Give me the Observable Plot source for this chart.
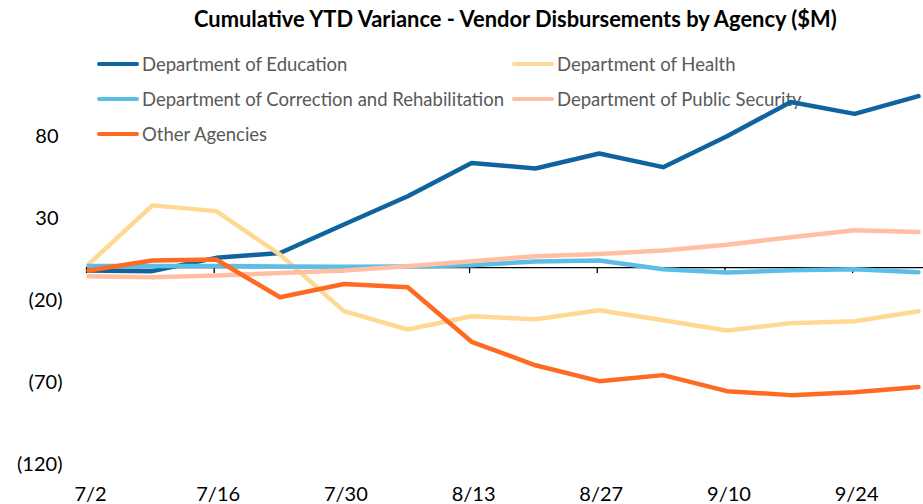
<!DOCTYPE html>
<html>
<head>
<meta charset="utf-8">
<script src="https://cdn.jsdelivr.net/npm/d3@7"></script>
<script src="https://cdn.jsdelivr.net/npm/@observablehq/plot@0.6"></script>
<style>
  body { margin: 0; background: #fff; font-family: Lato, "Open Sans", sans-serif; }
  #wrap { position: relative; width: 923px; height: 504px; overflow: hidden; }
  #title { position: absolute; left: 194px; top: 5px; font-size: 21.9px; font-weight: bold; color: #000; white-space: nowrap; line-height: 28px; }
  #legend { position: absolute; left: 0; top: 0; z-index: 0; }
  .item { position: absolute; display: flex; align-items: center; white-space: nowrap; font-size: 18.5px; color: #595959; height: 24px; }
  .swatch { display: inline-block; width: 42px; height: 4.5px; border-radius: 2px; margin-right: 3px; }
  #chart { position: absolute; left: 0; top: 40px; z-index: 1; }
</style>
</head>
<body>
<div id="wrap">
  <div id="title">Cumulative YTD Variance - Vendor Disbursements by Agency ($M)</div>
  <div id="legend"></div>
  <div id="chart"></div>
</div>
<script>
// ---- data ----
const weeks = ["7/2","7/9","7/16","7/23","7/30","8/6","8/13","8/20","8/27","9/3","9/10","9/17","9/24","10/1"];
const tickLabels = ["7/2","7/16","7/30","8/13","8/27","9/10","9/24"];
const seriesNames = [
  "Department of Education",
  "Department of Health",
  "Department of Correction and Rehabilitation",
  "Department of Public Security",
  "Other Agencies"
];
const seriesColors = ["#0f649f", "#ffd994", "#5bbee6", "#ffbfa3", "#ff6a22"];
const education   = [-1.7, -2.1, 6.0, 9.0, 26.3, 43.6, 63.9, 60.5, 69.6, 61.3, 80.2, 101.0, 93.8, 104.6];
const health      = [2.0, 38.0, 34.5, 8.0, -26.5, -37.7, -29.6, -31.4, -26.0, -32.0, -38.3, -33.8, -32.6, -26.5];
const correction  = [1.0, 1.0, 1.0, 0.8, 0.6, 0.8, 1.5, 3.8, 4.4, -1.0, -3.0, -1.5, -1.0, -2.7];
const publicSec   = [-5.2, -5.8, -4.8, -3.3, -1.7, 0.9, 4.0, 7.0, 8.4, 10.5, 14.0, 18.6, 22.9, 21.8];
const other       = [-1.7, 4.4, 5.0, -18.0, -9.9, -11.9, -45.2, -59.5, -69.2, -65.5, -75.3, -77.7, -75.9, -72.7];
const posTicks = [80, 30];
const negTicks = [-20, -70, -120];

// ---- build ----
const parse = s => d3.utcParse("%m/%d/%Y")(s + "/2020");
const dates = weeks.map(parse);
const tickDates = tickLabels.map(parse);
const allValues = [education, health, correction, publicSec, other];
const rows = [];
seriesNames.forEach((name, si) => {
  allValues[si].forEach((v, i) => rows.push({series: name, date: dates[i], value: v}));
});

const chart = Plot.plot({
  width: 923,
  height: 464,
  marginLeft: 86,
  marginRight: 0,
  marginTop: 14,
  marginBottom: 40,
  style: { fontFamily: "Lato, 'Open Sans', sans-serif", fontSize: "20px", color: "#000", background: "transparent" },
  x: { type: "utc", domain: [dates[0], dates[dates.length - 1]], insetLeft: 2, insetRight: 5 },
  y: { domain: [-120, 130] },
  color: { domain: seriesNames, range: seriesColors },
  marks: [
    Plot.ruleY([0], { stroke: "#000", strokeWidth: 1.3 }),
    Plot.ruleX(tickDates, { x: d => d, y1: 0, y2: -3.6, stroke: "#000", strokeWidth: 1.3, dx: -2 }),
    Plot.axisX(tickDates, { tickSize: 0, tickPadding: 22, tickFormat: d3.utcFormat("%-m/%-d"), dx: 2, fill: "#000", label: null }),
    Plot.axisY(posTicks, { tickSize: 0, tickPadding: 28, tickFormat: d => String(d), fill: "#000", label: null }),
    Plot.axisY(negTicks, { tickSize: 0, tickPadding: 24, tickFormat: d => `(${-d})`, fill: "#000", label: null }),
    Plot.lineY(rows, { x: "date", y: "value", z: "series", stroke: "series", strokeWidth: 4.5, strokeLinejoin: "round", strokeLinecap: "round" })
  ]
});
document.getElementById("chart").appendChild(chart);

// ---- legend ----
const legendPos = [
  {left: 97, top: 52}, {left: 512, top: 52},
  {left: 97, top: 87}, {left: 512, top: 87},
  {left: 97, top: 122}
];
const legend = document.getElementById("legend");
seriesNames.forEach((name, i) => {
  const it = document.createElement("div");
  it.className = "item";
  it.style.left = legendPos[i].left + "px";
  it.style.top = legendPos[i].top + "px";
  const sw = document.createElement("span");
  sw.className = "swatch";
  sw.style.background = seriesColors[i];
  const tx = document.createElement("span");
  tx.textContent = name;
  it.appendChild(sw);
  it.appendChild(tx);
  legend.appendChild(it);
});
</script>
</body>
</html>
